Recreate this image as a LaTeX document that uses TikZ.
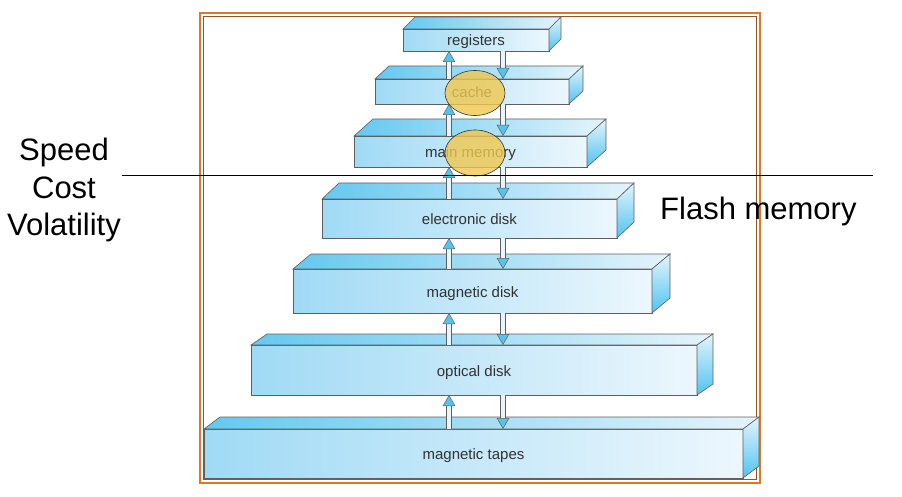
\documentclass[tikz,border=0pt]{standalone}
\usepackage{fontspec}
\setmainfont{Liberation Sans}
\usepackage{xcolor}
\usetikzlibrary{arrows.meta,shapes.geometric}

\definecolor{topL}{RGB}{100,200,240}
\definecolor{topR}{RGB}{228,244,252}
\definecolor{frontL}{RGB}{160,218,245}
\definecolor{frontR}{RGB}{236,247,253}
\definecolor{sideT}{RGB}{228,244,252}
\definecolor{sideB}{RGB}{80,195,240}
\definecolor{edgegray}{RGB}{95,95,95}
\definecolor{labelgray}{RGB}{50,50,50}
\definecolor{shaftblue}{RGB}{232,244,251}
\definecolor{tipblue}{RGB}{85,195,238}
\definecolor{spotfill}{RGB}{240,200,78}
\definecolor{frameorange}{RGB}{220,120,40}

\begin{document}
\begin{tikzpicture}[x=1pt, y=-1pt,
  slab/.style={draw=edgegray, line width=0.6pt, inner sep=0pt, outer sep=0pt, left color=frontL, right color=frontR, text=labelgray, font=\fontsize{15}{17}\selectfont, text height=15pt, text depth=3pt},
  topface/.style={draw=edgegray, line width=0.6pt, left color=topL, right color=topR},
  sideface/.style={draw=edgegray, line width=0.6pt, top color=sideT, bottom color=sideB},
  flow/.style={draw=edgegray, line width=0.5pt, double=shaftblue, double distance=4.5pt, -{Triangle[width=12.5pt, length=11pt, fill=tipblue, line width=0.5pt]}},
  spot/.style={ellipse, draw=black!80, line width=0.6pt, fill=spotfill, fill opacity=0.8, inner sep=0pt},
  bigtext/.style={font=\fontsize{31}{37.5}\selectfont, align=center}]
  \useasboundingbox (0,0) rectangle (902,497);

  % frame round the hierarchy
  \draw[frameorange, line width=1.4pt] (200,13) rectangle (760,483);
  \draw[frameorange!70!black, line width=0.6pt] (203.5,16.5) rectangle (756.5,479.5);

  % the storage levels
  \foreach \n/\cx/\cy/\w/\h/\dx/\dy/\lab in {
      reg/476/40/146/22/12/-12/registers,
      cache/472/91.5/194/25/14/-13/cache,
      mem/470.5/151.5/233/31/19/-17/main memory,
      edisk/469.5/218.5/295/39/17/-16/electronic disk,
      mdisk/472.5/291/359/44/18/-15/magnetic disk,
      odisk/474/370/446/50/16/-11/optical disk,
      tape/473.5/453.5/539/49/16/-12/magnetic tapes} {
    \node[slab, minimum width=\w, minimum height=\h] (\n) at (\cx,\cy) {\lab};
    \draw[topface] (\n.north west) -- ++(\dx,\dy) -- ++(\w,0) -- (\n.north east) -- cycle;
    \draw[sideface] (\n.north east) -- ++(\dx,\dy) -- ++(0,\h) -- (\n.south east) -- cycle;
  }

  % transfers between levels
  \coordinate (upx) at (449,0);
  \coordinate (dnx) at (503,0);
  \foreach \lo/\hi in {cache/reg, mem/cache, edisk/mem, mdisk/edisk, odisk/mdisk, tape/odisk} {
    \draw[flow] (\lo.north -| upx) -- (\hi.south -| upx);
    \draw[flow] (\hi.south -| dnx) -- (\lo.north -| dnx);
  }

  \node[spot, minimum width=60, minimum height=45] (cachespot) at (475,93) {};
  \node[spot, minimum width=60, minimum height=46] (memspot) at (475,153) {};

  \draw[black, line width=0.8pt] (122,175) -- (873,175);

  \node[bigtext] (traits) at (64,190) {Speed\\Cost\\Volatility};
  \node[bigtext, anchor=base west, inner sep=0pt] (flash) at (660,220) {Flash memory};
\end{tikzpicture}
\end{document}
